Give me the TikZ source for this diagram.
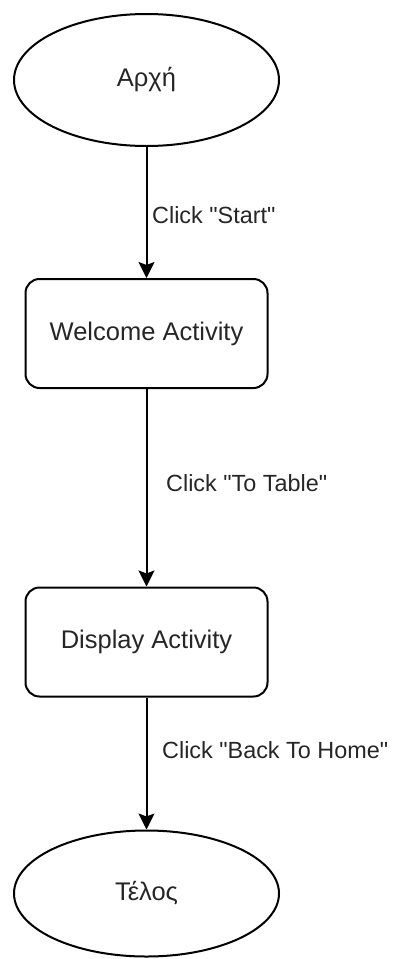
\documentclass[tikz,border=0pt]{standalone}
\usepackage{fontspec}
\setmainfont{Liberation Sans}[Ligatures=TeXOff]
\usetikzlibrary{shapes.geometric,arrows.meta}
\tikzset{
  line/.style={draw=black, line width=2pt},
  term/.style={line, ellipse, inner sep=0pt, minimum width=265pt, text=black!85, font=\fontsize{25.5}{30}\selectfont},
  act/.style={line, rounded corners=14pt, inner sep=0pt, minimum width=242pt, minimum height=109pt, text=black!85, font=\fontsize{25.5}{30}\selectfont},
  arr/.style={line, -{Stealth[length=16pt, width=16pt, inset=3pt]}},
  lbl/.style={anchor=west, inner sep=0pt, text=black!85, font=\fontsize{23.4}{28}\selectfont}
}
\begin{document}
\begin{tikzpicture}[x=1pt, y=-1pt]
\useasboundingbox (0,0) rectangle (397,959);
\node[term, minimum height=132pt] (start) at (146.5,80) {Αρχή};
\node[act] (welcome) at (146.5,333.5) {Welcome Activity};
\node[act] (display) at (146.5,642) {Display Activity};
\node[term, minimum height=126pt] (end) at (146.5,893.5) {Τέλος};
\draw[arr] (start.south) -- (welcome.north);
\draw[arr] (welcome.south) -- (display.north);
\draw[arr] (display.south) -- (end.north);
\node[lbl] (l1) at (152,215) {Click "Start"};
\node[lbl] (l2) at (166,483) {Click "To Table"};
\node[lbl] (l3) at (162,750) {Click "Back To Home"};
\end{tikzpicture}
\end{document}
